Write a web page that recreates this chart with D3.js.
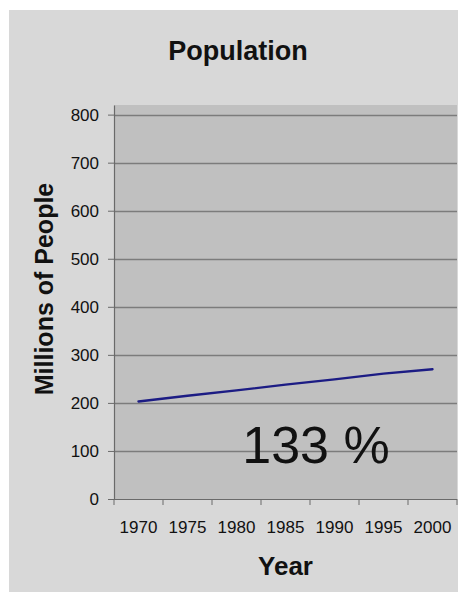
<!DOCTYPE html>
<html>
<head>
<meta charset="utf-8">
<script src="https://cdn.jsdelivr.net/npm/d3@7"></script>
<style>
  html, body { margin: 0; padding: 0; background: #ffffff; }
  svg { display: block; }
  text { font-family: "Liberation Sans", Arial, Helvetica, sans-serif; fill: #111; }
</style>
</head>
<body>
<svg id="chart" width="458" height="592"></svg>
<script>
// Population, millions, sampled every five years
const years = ["1970", "1975", "1980", "1985", "1990", "1995", "2000"];
const population = [203, 215, 226, 238, 249, 261, 270];
const yTicks = [0, 100, 200, 300, 400, 500, 600, 700, 800];

const svg = d3.select("#chart");
const W = 458, H = 592;

// chart background panel
svg.append("rect")
  .attr("x", 9).attr("y", 10)
  .attr("width", W - 9).attr("height", H - 10)
  .attr("fill", "#d8d8d8");

const plot = { left: 114, right: 457, top: 105, bottom: 499 };

const x = d3.scaleBand()
  .domain(years)
  .range([plot.left, plot.right])
  .paddingInner(0).paddingOuter(0);

const y = d3.scaleLinear()
  .domain([0, 820])
  .range([plot.bottom, plot.top]);

// plot area
svg.append("rect")
  .attr("x", plot.left).attr("y", plot.top)
  .attr("width", plot.right - plot.left)
  .attr("height", plot.bottom - plot.top)
  .attr("fill", "#c0c0c0");

// horizontal gridlines
svg.append("g")
  .selectAll("line")
  .data(yTicks.filter(d => d > 0))
  .join("line")
  .attr("x1", plot.left).attr("x2", plot.right)
  .attr("y1", d => Math.round(y(d)) + 0.5)
  .attr("y2", d => Math.round(y(d)) + 0.5)
  .attr("stroke", "#7c7c7c")
  .attr("stroke-width", 1.3);

// y axis
const yAxis = svg.append("g")
  .attr("transform", `translate(${plot.left},0)`)
  .call(d3.axisLeft(y).tickValues(yTicks).tickSize(6).tickPadding(9).tickSizeOuter(0));
yAxis.select(".domain").attr("stroke", "#6a6a6a").attr("stroke-width", 1.2);
yAxis.selectAll(".tick line").attr("stroke", "#6a6a6a");
yAxis.selectAll(".tick text")
  .style("font-size", "17px")
  .attr("fill", "#111");

// x axis: labels centred in categories, tick marks on category boundaries
const xAxis = svg.append("g")
  .attr("transform", `translate(0,${plot.bottom})`)
  .call(d3.axisBottom(x).tickSize(0).tickPadding(22).tickSizeOuter(0));
xAxis.select(".domain").remove();
xAxis.selectAll(".tick text")
  .style("font-size", "17px")
  .attr("fill", "#111");

const bounds = years.map(d => x(d)).concat([x(years[years.length - 1]) + x.bandwidth()]);
svg.append("line")
  .attr("x1", plot.left).attr("x2", plot.right)
  .attr("y1", plot.bottom + 0.5).attr("y2", plot.bottom + 0.5)
  .attr("stroke", "#6a6a6a").attr("stroke-width", 1.2);
svg.append("g")
  .selectAll("line")
  .data(bounds)
  .join("line")
  .attr("x1", d => d).attr("x2", d => d)
  .attr("y1", plot.bottom).attr("y2", plot.bottom + 6)
  .attr("stroke", "#6a6a6a");

// population line
const line = d3.line()
  .x((d, i) => x(years[i]) + x.bandwidth() / 2)
  .y(d => y(d));
svg.append("path")
  .datum(population)
  .attr("d", line)
  .attr("fill", "none")
  .attr("stroke", "#1c1c84")
  .attr("stroke-width", 2.4)
  .attr("stroke-linecap", "round");

// growth annotation
const growth = Math.round(population[population.length - 1] / population[0] * 100);
svg.append("text")
  .attr("x", 316).attr("y", 463)
  .attr("text-anchor", "middle")
  .style("font-size", "52px")
  .text(`${growth} %`);

// titles
svg.append("text")
  .attr("x", 238).attr("y", 60)
  .attr("text-anchor", "middle")
  .style("font-size", "27px").style("font-weight", "bold")
  .text("Population");

svg.append("text")
  .attr("x", (plot.left + plot.right) / 2).attr("y", 575)
  .attr("text-anchor", "middle")
  .style("font-size", "26px").style("font-weight", "bold")
  .text("Year");

svg.append("text")
  .attr("transform", "translate(53,289) rotate(-90)")
  .attr("text-anchor", "middle")
  .style("font-size", "25px").style("font-weight", "bold")
  .text("Millions of People");
</script>
</body>
</html>
